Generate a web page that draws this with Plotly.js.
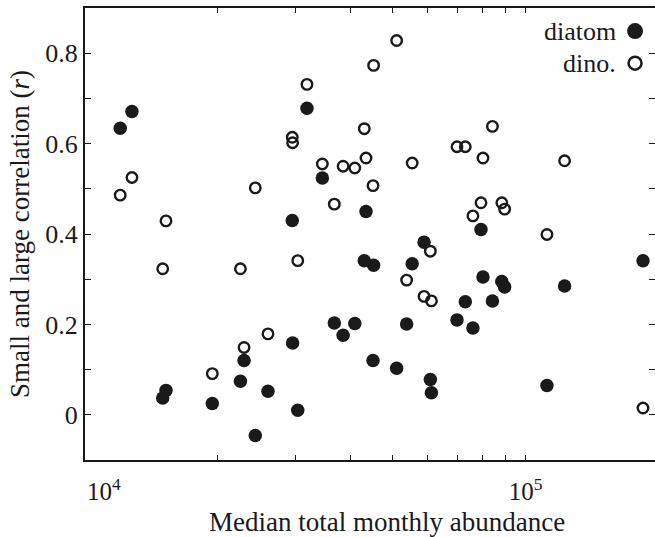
<!DOCTYPE html>
<html>
<head>
<meta charset="utf-8">
<script src="https://cdn.plot.ly/plotly-3.0.1.min.js"></script>
<style>html,body{margin:0;padding:0;background:#fff}#chart{width:655px;height:537px}</style>
</head>
<body>
<div id="chart"></div>
<script>
// Median total monthly abundance (one value per site)
const abundance = [12020, 12780, 15010, 15270, 19450, 22530, 22960, 24350, 26020, 29540,
  29590, 30400, 31900, 34570, 36800, 38530, 40960, 43040, 43430, 45050,
  45190, 50970, 53700, 55280, 58820, 60790, 61130, 69870, 72970, 75940,
  79200, 80030, 84080, 88310, 89620, 111800, 122600, 184700];
// Small/large correlation (r) for diatoms
const diatomR = [0.634, 0.671, 0.037, 0.054, 0.025, 0.074, 0.120, -0.046, 0.052, 0.430,
  0.159, 0.010, 0.678, 0.524, 0.203, 0.176, 0.202, 0.341, 0.450, 0.120,
  0.331, 0.103, 0.201, 0.334, 0.382, 0.078, 0.049, 0.210, 0.250, 0.192,
  0.410, 0.305, 0.252, 0.295, 0.283, 0.065, 0.285, 0.341];
// Small/large correlation (r) for dinoflagellates
const dinoR = [0.486, 0.525, 0.323, 0.429, 0.091, 0.323, 0.149, 0.502, 0.179, 0.614,
  0.602, 0.341, 0.731, 0.555, 0.466, 0.550, 0.546, 0.633, 0.568, 0.507,
  0.773, 0.828, 0.298, 0.557, 0.262, 0.362, 0.252, 0.593, 0.593, 0.440,
  0.469, 0.568, 0.638, 0.469, 0.455, 0.399, 0.562, 0.015];

const xTickVals = [1e4, 2e4, 3e4, 4e4, 5e4, 6e4, 7e4, 8e4, 9e4, 1e5, 2e5];
const xTickText = ['10<sup>4</sup>', '', '', '', '', '', '', '', '', '10<sup>5</sup>', ''];
const yTickVals = [0, 0.1, 0.2, 0.3, 0.4, 0.5, 0.6, 0.7, 0.8];
const yTickText = ['0', '', '0.2', '', '0.4', '', '0.6', '', '0.8'];
const legendNames = ['diatom', 'dino.'];
const xTitle = 'Median total monthly abundance';
const yTitle = 'Small and large correlation (<i>r</i>)';

const FONT = '"Liberation Serif", "Times New Roman", Times, serif';
const INK = '#1a1a1a';

// the first decade label sits to the right of its tick in the reference
const NB = '\u00a0';
const xTickShown = xTickText.map((t, i) => (i === 0 ? NB.repeat(6) + t : t));

// legend placement (fractions of the plot area)
const legX = 0.965, legTextX = 0.935, legY = [0.949, 0.878];

const traces = [
  {x: abundance, y: dinoR, type: 'scatter', mode: 'markers', name: legendNames[1],
   marker: {symbol: 'circle-open', size: 10.5, color: INK, line: {width: 2.4, color: INK}},
   xaxis: 'x', yaxis: 'y', hoverinfo: 'x+y'},
  {x: abundance, y: diatomR, type: 'scatter', mode: 'markers', name: legendNames[0],
   marker: {symbol: 'circle', size: 13.5, color: INK},
   xaxis: 'x', yaxis: 'y', hoverinfo: 'x+y'},
  // legend keys
  {x: [legX], y: [legY[0]], type: 'scatter', mode: 'markers', xaxis: 'x3', yaxis: 'y3',
   marker: {symbol: 'circle', size: 16, color: INK}, hoverinfo: 'skip'},
  {x: [legX], y: [legY[1]], type: 'scatter', mode: 'markers', xaxis: 'x3', yaxis: 'y3',
   marker: {symbol: 'circle-open', size: 13, color: INK, line: {width: 2.5, color: INK}}, hoverinfo: 'skip'},
  // invisible trace to host right-hand tick axis
  {x: [abundance[0]], y: [diatomR[0]], type: 'scatter', mode: 'markers', xaxis: 'x', yaxis: 'y2',
   marker: {opacity: 0}, hoverinfo: 'skip'}
];

const annotations = legendNames.map((n, i) => ({
  text: n, xref: 'paper', yref: 'paper', x: legTextX, y: legY[i],
  xanchor: 'right', yanchor: 'middle', showarrow: false,
  font: {family: FONT, size: 26, color: INK}
}));
annotations.push({
  text: xTitle, xref: 'paper', yref: 'paper', x: 0.53, y: -0.137,
  xanchor: 'center', yanchor: 'middle', showarrow: false,
  font: {family: FONT, size: 27, color: INK}
});

const layout = {
  width: 655, height: 537,
  margin: {l: 85, r: 0, t: 8, b: 77},
  paper_bgcolor: '#fff', plot_bgcolor: '#fff',
  showlegend: false,
  font: {family: FONT, size: 26, color: INK},
  xaxis: {
    type: 'log', range: [4, 5.2937],
    tickmode: 'array', tickvals: xTickVals, ticktext: xTickShown,
    ticks: 'inside', ticklen: 5, tickwidth: 1, tickcolor: INK,
    showline: true, linewidth: 2, linecolor: INK, mirror: 'ticks',
    showgrid: false, zeroline: false, ticklabelstandoff: 8,
    tickfont: {family: FONT, size: 25, color: INK}
  },
  yaxis: {
    range: [-0.1, 0.9],
    tickmode: 'array', tickvals: yTickVals, ticktext: yTickText,
    ticks: 'inside', ticklen: 6, tickwidth: 1, tickcolor: INK,
    showline: true, linewidth: 2, linecolor: INK, mirror: false,
    showgrid: false, zeroline: false,
    tickfont: {family: FONT, size: 26, color: INK},
    title: {text: yTitle, font: {family: FONT, size: 27, color: INK}, standoff: 8}
  },
  yaxis2: {
    overlaying: 'y', side: 'right', anchor: 'x', range: [-0.1, 0.9],
    tickmode: 'array', tickvals: yTickVals, showticklabels: false,
    ticks: 'inside', ticklen: 6, tickwidth: 1, tickcolor: INK,
    showline: false, showgrid: false, zeroline: false
  },
  xaxis3: {overlaying: 'x', range: [0, 1], visible: false, anchor: 'y3'},
  yaxis3: {overlaying: 'y', range: [0, 1], visible: false, anchor: 'x3'},
  annotations: annotations
};

Plotly.newPlot('chart', traces, layout, {displayModeBar: false, staticPlot: true});
</script>
</body>
</html>
